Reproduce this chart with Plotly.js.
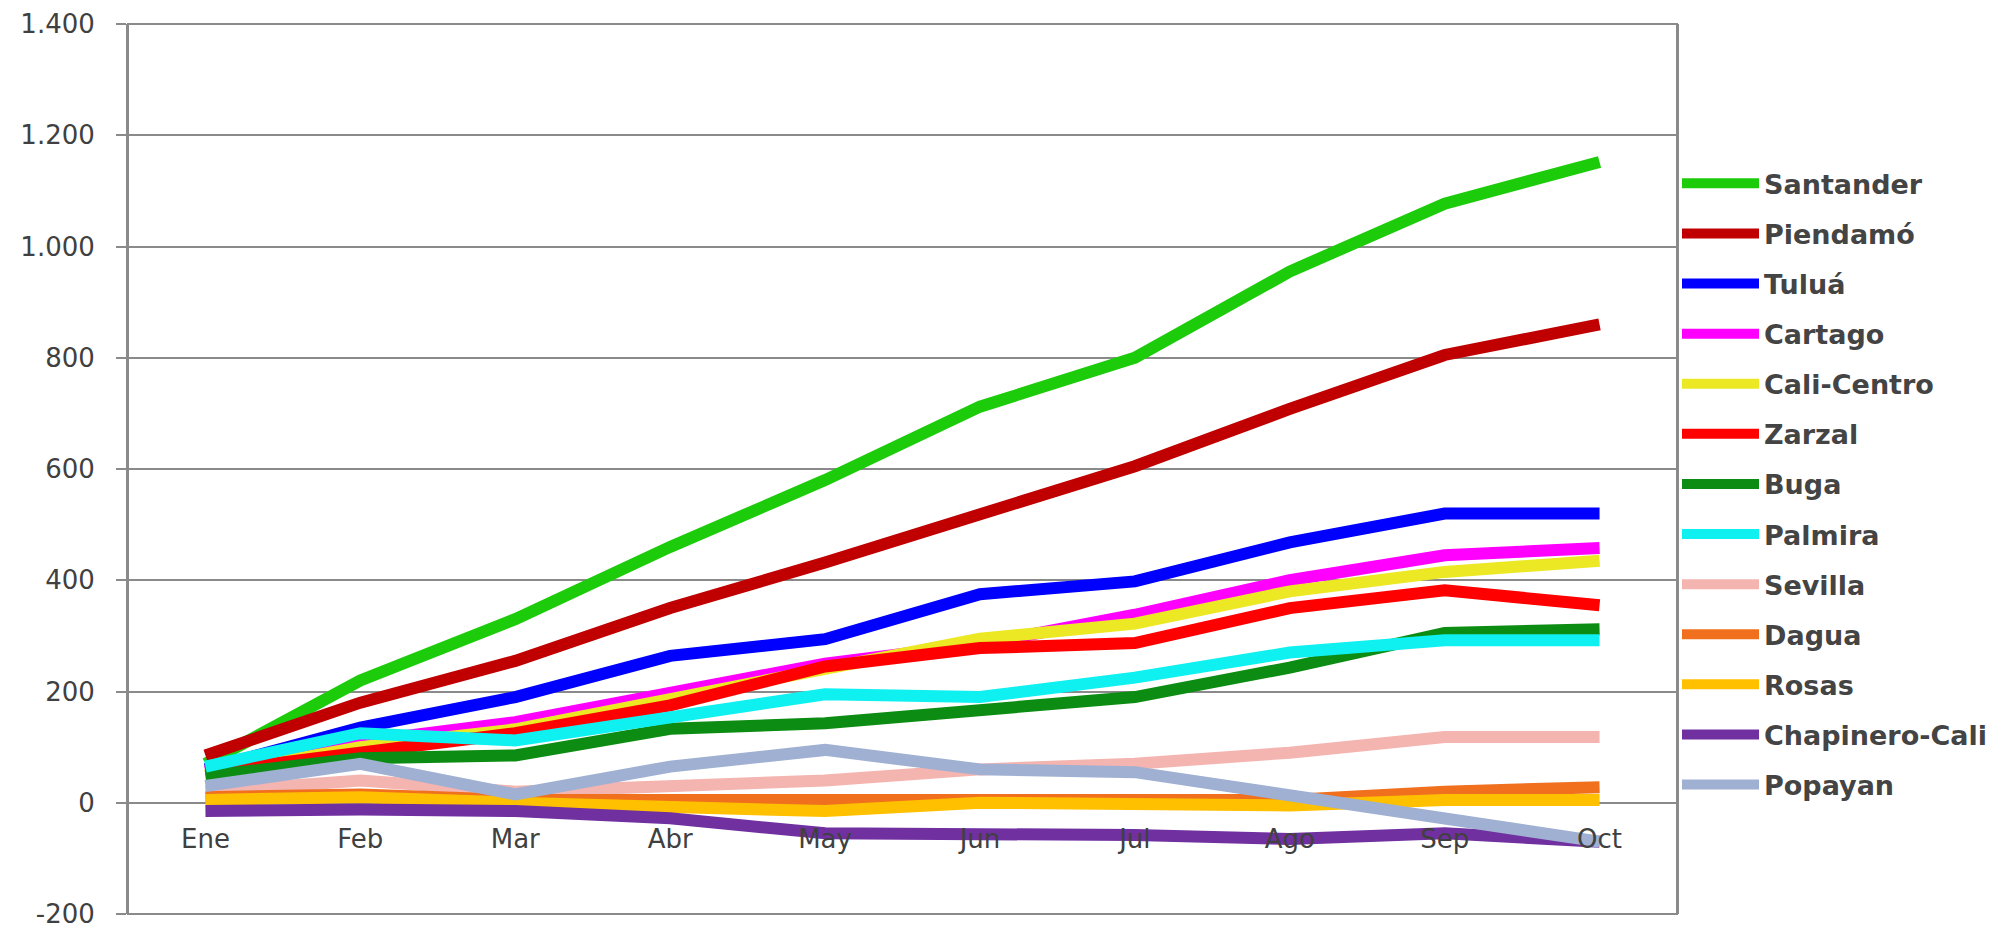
<!DOCTYPE html>
<html><head><meta charset="utf-8">
<script src="https://cdn.plot.ly/plotly-3.0.1.min.js"></script>
<style>html,body{margin:0;padding:0;background:#fff;}#chart{width:1996px;height:931px;}</style>
</head><body><div id="chart"></div>
<script>
const months = ["Ene","Feb","Mar","Abr","May","Jun","Jul","Ago","Sep","Oct"];
const santander   = [70, 220, 330, 460, 580, 712, 800, 955, 1077, 1152];
const piendamo    = [85, 180, 255, 350, 432, 520, 605, 708, 805, 860];
const tulua       = [60, 135, 190, 264, 294, 375, 398, 468, 520, 520];
const cartago     = [55, 110, 145, 195, 250, 285, 338, 400, 445, 458];
const caliCentro  = [50, 100, 132, 188, 240, 295, 322, 380, 415, 435];
const zarzal      = [55, 90, 125, 175, 245, 278, 287, 350, 382, 355];
const buga        = [48, 80, 85, 133, 143, 165, 190, 243, 305, 312];
const palmira     = [65, 125, 112, 155, 195, 190, 225, 270, 292, 292];
const sevilla     = [20, 40, 20, 30, 40, 60, 70, 90, 118, 118];
const dagua       = [10, 15, 5, 5, 8, 10, 8, 5, 20, 28];
const rosas       = [5, 10, 0, -10, -15, 0, -5, -5, 5, 5];
const chapinero   = [-15, -12, -15, -28, -55, -55, -58, -65, -55, -70];
const popayan     = [30, 70, 15, 65, 95, 60, 55, 15, -30, -70];
const seriesNames = ["Santander","Piendamó","Tuluá","Cartago","Cali-Centro","Zarzal","Buga","Palmira","Sevilla","Dagua","Rosas","Chapinero-Cali","Popayan"];
const seriesData = [santander,piendamo,tulua,cartago,caliCentro,zarzal,buga,palmira,sevilla,dagua,rosas,chapinero,popayan];
const colors = ["#1ccc0a","#c00000","#0000ff","#ff00ff","#ece824","#ff0000","#0c8c12","#0ff0f0","#f4b4b0","#f0701e","#ffc000","#7030a0","#9fb0d2"];
const yTickVals = [-200,0,200,400,600,800,1000,1200,1400];
const yTickText = ["-200","0","200","400","600","800","1.000","1.200","1.400"];

const traces = seriesNames.map((n,i)=>({
  type:'scatter', mode:'lines', name:n, x:months, y:seriesData[i],
  legendgroup:n, line:{color:colors[i], width:12}
}));

const axisGray = '#8a8a8a';
const layout = {
  width:1996, height:931,
  margin:{l:128, r:319, t:24, b:17, autoexpand:false},
  paper_bgcolor:'#fff', plot_bgcolor:'#fff',
  showlegend:true,
  legend:{x:1, xanchor:'left', y:0.848, yanchor:'top', traceorder:'grouped', tracegroupgap:12,
          font:{family:'DejaVu Sans', size:27, color:'#444', weight:'bold'}, itemwidth:77, bgcolor:'rgba(0,0,0,0)'},
  xaxis:{type:'category', range:[-0.5,9.5], anchor:'free', position:0.125, showline:false, showgrid:false,
         zeroline:false, ticks:'', ticklabelstandoff:18,
         tickfont:{family:'DejaVu Sans', size:26, color:'#404040'}},
  yaxis:{range:[-200,1400], tickvals:yTickVals, ticktext:yTickText, showgrid:true, gridcolor:axisGray, gridwidth:2,
         zeroline:false, showline:true, mirror:true, linecolor:axisGray, linewidth:2,
         ticks:'outside', ticklen:10, tickcolor:axisGray, tickwidth:2, ticklabelstandoff:16, ticklabeloverflow:'allow',
         tickfont:{family:'DejaVu Sans', size:26, color:'#404040'}},
  shapes:[{type:'rect', xref:'paper', yref:'paper', x0:0, x1:1, y0:0, y1:1, layer:'below',
           line:{color:axisGray, width:2}, fillcolor:'rgba(0,0,0,0)'}]
};
Plotly.newPlot('chart', traces, layout, {displayModeBar:false, staticPlot:true});
</script></body></html>
